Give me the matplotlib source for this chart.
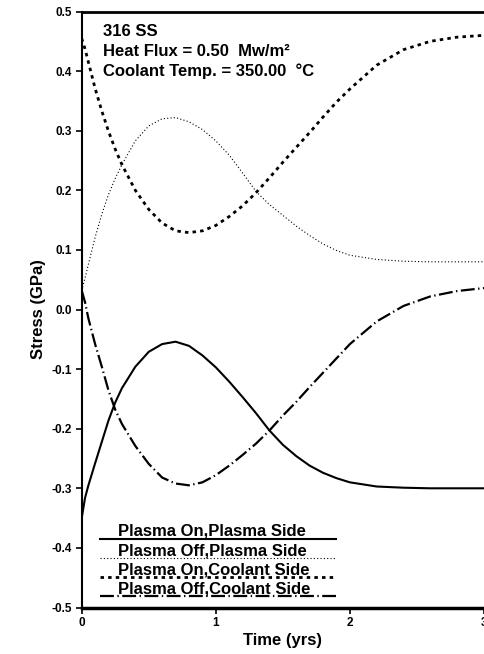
import matplotlib
matplotlib.use('Agg')
import matplotlib.pyplot as plt

plt.rcParams['font.family'] = ['Liberation Sans', 'DejaVu Sans']
plt.rcParams['font.weight'] = 'bold'
plt.rcParams['lines.scale_dashes'] = False

# time (yrs)
time = [0, 0.025, 0.05, 0.1, 0.15, 0.2, 0.25, 0.3, 0.4, 0.5, 0.6, 0.7, 0.8, 0.9, 1.0,
        1.1, 1.2, 1.3, 1.4, 1.5, 1.6, 1.7, 1.8, 1.9, 2.0, 2.2, 2.4, 2.6, 2.8, 3.0]

# stress (GPa)
on_plasma = [-0.350, -0.316, -0.295, -0.258, -0.222, -0.186, -0.156, -0.132, -0.096, -0.071,
             -0.058, -0.054, -0.061, -0.077, -0.097, -0.121, -0.147, -0.174, -0.203, -0.227,
             -0.246, -0.262, -0.274, -0.283, -0.290, -0.297, -0.299, -0.300, -0.300, -0.300]
off_plasma = [0.032, 0.053, 0.076, 0.121, 0.160, 0.193, 0.220, 0.243, 0.283, 0.308,
              0.320, 0.322, 0.315, 0.302, 0.283, 0.259, 0.229, 0.198, 0.176, 0.158,
              0.140, 0.124, 0.110, 0.099, 0.091, 0.084, 0.081, 0.080, 0.080, 0.080]
on_coolant = [0.455, 0.437, 0.415, 0.371, 0.333, 0.299, 0.269, 0.243, 0.200, 0.168,
              0.145, 0.132, 0.129, 0.132, 0.141, 0.156, 0.174, 0.196, 0.221, 0.247,
              0.272, 0.297, 0.323, 0.348, 0.370, 0.410, 0.436, 0.450, 0.457, 0.460]
off_coolant = [0.032, 0.012, -0.015, -0.058, -0.096, -0.136, -0.168, -0.192, -0.229, -0.259,
               -0.282, -0.292, -0.295, -0.290, -0.278, -0.262, -0.244, -0.225, -0.203, -0.178,
               -0.155, -0.130, -0.106, -0.082, -0.058, -0.020, 0.006, 0.022, 0.031, 0.036]

labels = ['Plasma On,Plasma Side', 'Plasma Off,Plasma Side',
          'Plasma On,Coolant Side', 'Plasma Off,Coolant Side']

styles = [
    dict(lw=1.5, linestyle='-'),
    dict(lw=0.8, dashes=(0.8, 1.6)),
    dict(lw=2.0, dashes=(2.5, 3.0)),
    dict(lw=1.6, dashes=(10, 2.5, 1, 2.5)),
]
series = [on_plasma, off_plasma, on_coolant, off_coolant]

fig = plt.figure(figsize=(4.84, 6.54), dpi=100)
ax = fig.add_axes([0.1688, 0.0711, 0.8312, 0.9113])

for vals, st in zip(series, styles):
    ax.plot(time, vals, color='black', **st)

ax.set_xlim(0, 3)
ax.set_ylim(-0.5, 0.5)
ax.set_xticks([0, 1, 2, 3])
ax.set_yticks([0.5, 0.4, 0.3, 0.2, 0.1, 0.0, -0.1, -0.2, -0.3, -0.4, -0.5])
ax.set_yticklabels(['%.1f' % v for v in ax.get_yticks()])
ax.tick_params(direction='out', length=4, width=1.2, labelsize=8.5, pad=3)
for lab in ax.get_xticklabels() + ax.get_yticklabels():
    lab.set_fontweight('bold')

ax.spines['right'].set_visible(False)
ax.spines['left'].set_linewidth(1.5)
ax.spines['top'].set_linewidth(2.0)
ax.spines['bottom'].set_linewidth(2.5)

ax.set_xlabel('Time (yrs)', fontsize=12, fontweight='bold', labelpad=3)
ax.set_ylabel('Stress (GPa)', fontsize=12, fontweight='bold', labelpad=4)

# parameter block
info = ['316 SS', 'Heat Flux = 0.50  Mw/m\u00b2', 'Coolant Temp. = 350.00  \u00b0C']
for i, s in enumerate(info):
    ax.text(0.053, 0.9589 - i * 0.0336, s, transform=ax.transAxes,
            fontsize=12, fontweight='bold', va='baseline', ha='left')

# hand-made legend: label above a sample line
for i, (lab, st) in enumerate(zip(labels, styles)):
    y = 0.115 - i * 0.032
    ax.plot([0.0467, 0.633], [y, y], transform=ax.transAxes, color='black',
            clip_on=False, **st)
    ax.text(0.090, y + 0.005, lab, transform=ax.transAxes, fontsize=12,
            fontweight='bold', va='baseline', ha='left')

fig.savefig('out.png', dpi=100)
